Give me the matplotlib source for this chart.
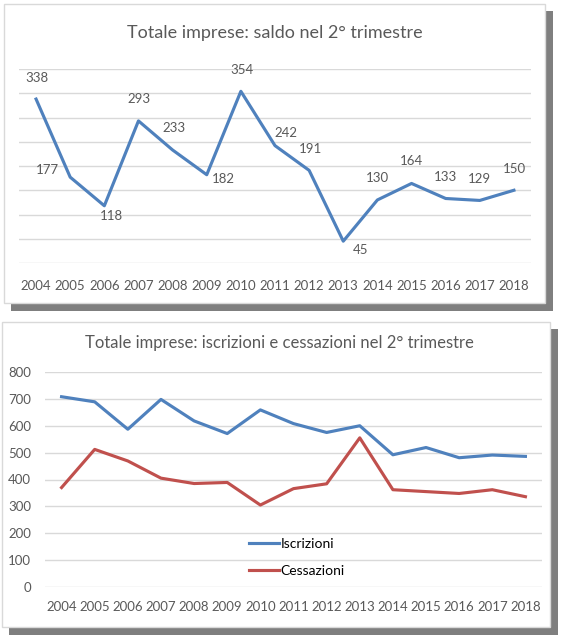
import matplotlib
matplotlib.use("Agg")
import matplotlib.pyplot as plt
from matplotlib.patches import Rectangle

years = ['2004', '2005', '2006', '2007', '2008', '2009', '2010', '2011',
         '2012', '2013', '2014', '2015', '2016', '2017', '2018']
saldo = [338, 177, 118, 293, 233, 182, 354, 242, 191, 45, 130, 164, 133, 129, 150]
iscrizioni = [708, 689, 587, 698, 618, 571, 659, 608, 575, 600, 492, 519, 481, 491, 486]
cessazioni = [370, 512, 469, 405, 385, 389, 305, 366, 384, 555, 362, 355, 348, 362, 336]

# label offsets in pixels (dx, dy) for the saldo data labels
label_offsets = [(1, 21), (-23, 7), (7, -10), (1, 22), (1, 22), (17, -4), (1, 21), (11, 13),
                 (1, 21), (17, -9), (0, 22), (0, 22), (0, 21), (0, 21), (0, 21)]

W, H = 563, 643
BLUE = '#4f81bd'
RED = '#c0504d'
TXT = '#595959'
GRID = '#d9d9d9'

plt.rcParams['font.family'] = ['Lato', 'DejaVu Sans']
fig = plt.figure(figsize=(W / 100, H / 100), dpi=100)


def rect(x0, y0, x1, y1):
    return [x0 / W, 1 - y1 / H, (x1 - x0) / W, (y1 - y0) / H]


def panel(x0, y0, x1, y1):
    # grey drop shadow then white box
    sx, sy, sw, sh = rect(x0 + 7, y0 + 7, x1 + 8, y1 + 8)
    fig.patches.append(Rectangle((sx, sy), sw, sh, transform=fig.transFigure,
                                 facecolor='#7f7f7f', edgecolor='none', zorder=0))
    bx, by, bw, bh = rect(x0, y0, x1, y1)
    fig.patches.append(Rectangle((bx, by), bw, bh, transform=fig.transFigure,
                                 facecolor='white', edgecolor=GRID, lw=1, zorder=1))


def style_axes(ax, ymax, step):
    ax.set_facecolor('none')
    ax.set_zorder(2)
    for s in ax.spines.values():
        s.set_visible(False)
    ax.set_xlim(-0.5, len(years) - 0.5)
    ax.set_ylim(0, ymax)
    for v in range(0, ymax + 1, step):
        ax.axhline(v, color=GRID, lw=1, zorder=0)
    ax.set_xticks(range(len(years)))
    ax.set_xticklabels(years)
    ax.tick_params(axis='x', length=0, colors=TXT, labelsize=9.5)


# top panel: saldo
panel(4, 4, 545, 303)
ax1 = fig.add_axes(rect(19, 69, 531, 263))
style_axes(ax1, 400, 50)
ax1.tick_params(axis='x', pad=12)
ax1.set_yticks([])
x = range(len(years))
ax1.plot(x, saldo, color=BLUE, lw=2.25, solid_joinstyle='round')
for i, v in enumerate(saldo):
    dx, dy = label_offsets[i]
    ax1.annotate(str(v), (i, v), xytext=(dx, dy), textcoords='offset pixels',
                 ha='center', va='center', fontsize=9.5, color=TXT)
fig.text(275 / W, 1 - 33 / H, 'Totale imprese: saldo nel 2° trimestre',
         ha='center', va='center', fontsize=13, color=TXT)

# bottom panel: iscrizioni e cessazioni
panel(2, 322, 550, 627)
ax2 = fig.add_axes(rect(45, 372, 542, 587))
style_axes(ax2, 800, 100)
ax2.tick_params(axis='x', pad=10)
ax2.set_yticks(range(0, 801, 100))
ax2.tick_params(axis='y', length=0, colors=TXT, labelsize=9.5, pad=10)
ax2.plot(x, iscrizioni, color=BLUE, lw=2.25, label='Iscrizioni')
ax2.plot(x, cessazioni, color=RED, lw=2.25, label='Cessazioni')
ax2.legend(loc='center', bbox_to_anchor=(7.1, 110), bbox_transform=ax2.transData,
           frameon=False, fontsize=10, handlelength=2.2, handletextpad=0.1,
           labelspacing=1.1, labelcolor='#000000')
fig.text(279 / W, 1 - 343 / H, 'Totale imprese: iscrizioni e cessazioni nel 2° trimestre',
         ha='center', va='center', fontsize=12, color=TXT)

fig.savefig('out.png', dpi=100)
